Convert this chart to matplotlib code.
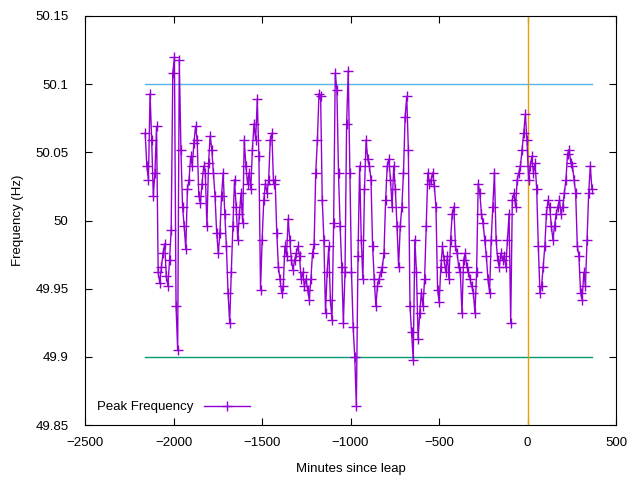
import numpy as np
import matplotlib
matplotlib.use("Agg")
import matplotlib.pyplot as plt

freq = [
50.064,50.040,50.030,50.093,50.059,50.018,50.035,50.069,49.962,49.954,49.966,49.976,49.983,49.959,49.952,49.971,49.993,50.108,50.120,49.937,49.905,50.118,50.052,50.010,49.996,49.979,50.023,50.030,50.047,50.040,50.057,50.069,50.059,50.018,50.013,50.027,50.040,50.035,49.996,50.042,50.062,50.052,50.035,50.018,49.991,49.976,49.991,50.018,50.035,50.005,49.981,49.947,49.925,49.962,49.996,50.030,50.010,49.986,50.005,50.020,49.998,50.059,50.040,50.027,50.035,50.023,50.052,50.071,
50.059,50.089,50.047,49.949,49.986,50.015,50.027,50.020,50.030,50.059,50.064,50.027,50.030,49.991,49.966,49.957,49.947,49.952,49.981,49.974,50.001,49.986,49.971,49.964,49.971,49.976,49.981,49.974,49.957,49.962,49.952,49.957,49.949,49.942,49.957,49.976,49.983,50.035,50.059,50.093,50.091,50.015,49.986,49.932,49.962,49.981,49.942,49.927,49.998,50.108,50.096,50.035,49.996,49.966,49.925,49.962,50.071,50.110,50.035,49.962,49.922,49.900,49.864,49.974,50.040,49.986,49.957,50.023,50.059,50.045,50.040,50.030,
49.981,49.957,49.937,49.952,49.957,49.962,49.966,49.976,50.015,50.040,50.045,50.030,50.010,50.040,50.023,49.996,49.966,49.996,50.010,50.035,50.076,50.091,50.052,49.937,49.918,49.898,49.986,49.962,49.913,49.932,49.947,49.937,49.957,49.996,50.035,50.027,50.030,50.035,50.025,50.010,49.949,49.940,49.966,49.981,49.971,49.962,49.974,49.957,49.986,50.005,50.010,49.981,49.976,49.966,49.962,49.932,49.971,49.976,49.966,49.962,49.957,49.952,49.947,49.932,49.962,50.027,50.020,50.005,49.998,49.986,49.974,
49.957,49.947,49.986,50.010,50.035,49.986,49.971,49.966,49.976,49.971,49.974,49.966,49.986,50.005,49.925,50.015,50.020,50.010,50.030,50.035,50.040,50.052,50.064,50.078,50.059,50.030,50.040,50.047,50.035,50.042,50.023,49.981,49.947,49.952,49.966,49.981,50.005,50.015,50.010,49.996,49.986,49.996,50.005,50.010,50.015,50.005,50.010,50.020,50.030,50.049,50.052,50.042,50.040,50.030,50.020,49.981,49.974,49.947,49.942,49.962,49.952,49.986,50.020,50.040,50.023,
]
t_start, t_end = -2160, 364
minutes = np.linspace(t_start, t_end, len(freq))

xticks = [-2500, -2000, -1500, -1000, -500, 0, 500]
yticks = [49.85, 49.9, 49.95, 50.0, 50.05, 50.1, 50.15]
ylabels = ["49.85", "49.9", "49.95", "50", "50.05", "50.1", "50.15"]

plt.rcParams["font.family"] = "Liberation Sans"
fig = plt.figure(figsize=(6.4, 4.8), dpi=100)
ax = fig.add_axes([85/640, 55/480, 531/640, 409/480])
ax.plot([t_start, t_end], [50.1, 50.1], color="#56B4E9", lw=1)
ax.plot([t_start, t_end], [49.9, 49.9], color="#009E73", lw=1)
ax.axvline(0, color="#E69F00", lw=1)
ax.plot(minutes, freq, color="#9400D3", lw=1, marker="+", ms=7, mew=1, label="Peak Frequency")
ax.set_xlim(-2500, 500)
ax.set_ylim(49.85, 50.15)
ax.set_xticks(xticks)
ax.set_yticks(yticks)
ax.set_yticklabels(ylabels)
ax.tick_params(direction="in", top=True, right=True, labelsize=9.5, length=5)
ax.tick_params(axis="x", pad=9)
ax.tick_params(axis="y", pad=12)
ax.set_xlabel("Minutes since leap", fontsize=9.5, labelpad=10)
ax.set_ylabel("Frequency (Hz)", fontsize=9.5, labelpad=8)
ax.legend(loc="lower left", frameon=False, markerfirst=False, fontsize=9.5, handlelength=3.5)
fig.savefig("out.png", dpi=100)
